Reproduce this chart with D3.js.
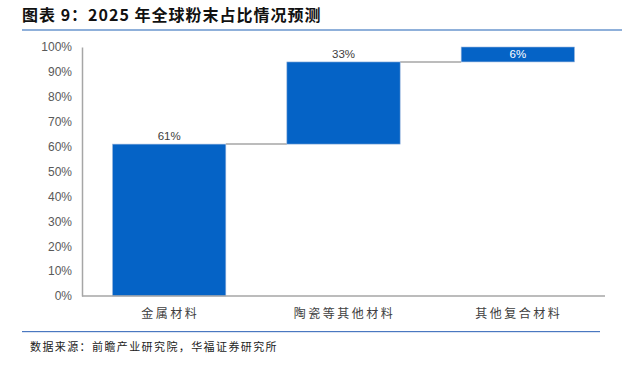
<!DOCTYPE html>
<html>
<head>
<meta charset="utf-8">
<script src="https://cdn.jsdelivr.net/npm/d3@7.9.0/dist/d3.min.js"></script>
<style>
  body { margin: 0; background: #fff; }
  svg { display: block; font-family: "Liberation Sans", Arial, sans-serif; }
</style>
</head>
<body>
<svg id="chart" width="622" height="365"></svg>
<script>
const categories = ['金属材料', '陶瓷等其他材料', '其他复合材料'];
const shares = [61, 33, 6];
const tickValues = [0, 10, 20, 30, 40, 50, 60, 70, 80, 90, 100];

const svg = d3.select('#chart');
const cjk = '"Noto Sans CJK SC", "Noto Sans", sans-serif';

// title + rules
svg.append('text')
  .attr('x', 22).attr('y', 21)
  .attr('font-family', cjk).attr('font-weight', 'bold')
  .attr('font-size', 16).attr('letter-spacing', 1).attr('fill', '#111')
  .text('图表 9：2025 年全球粉末占比情况预测');
svg.append('rect').attr('x', 22).attr('y', 29).attr('width', 600).attr('height', 2).attr('fill', '#8fb0da');
svg.append('rect').attr('x', 22).attr('y', 331).attr('width', 578).attr('height', 1.2).attr('fill', '#4a78c0');
svg.append('text')
  .attr('x', 30).attr('y', 351)
  .attr('font-family', cjk).attr('font-size', 11).attr('letter-spacing', 1.4).attr('fill', '#222')
  .text('数据来源：前瞻产业研究院，华福证券研究所');

const x = d3.scaleBand().domain(categories).range([82, 605]).paddingInner(0.35).paddingOuter(0.175);
const y = d3.scaleLinear().domain([0, 100]).range([296, 47]);

// waterfall bases
let run = 0;
const rows = categories.map((c, i) => {
  const r = { cat: c, v: shares[i], start: run, end: run + shares[i] };
  run += shares[i];
  return r;
});

// y axis
const yAxis = svg.append('g').attr('transform', 'translate(82,0)')
  .call(d3.axisLeft(y).tickValues(tickValues).tickSize(0).tickPadding(10).tickFormat(d => d + '%'));
yAxis.select('.domain').attr('stroke', '#a6a6a6').attr('stroke-width', 1.5);
yAxis.selectAll('text').attr('font-size', 12).attr('fill', '#595959').attr('font-family', '"Liberation Sans", Arial, sans-serif');

// connectors
rows.slice(0, -1).forEach((r, i) => {
  svg.append('line')
    .attr('x1', x(r.cat) + x.bandwidth()).attr('x2', x(rows[i + 1].cat))
    .attr('y1', y(r.end)).attr('y2', y(r.end))
    .attr('stroke', '#a6a6a6').attr('stroke-width', 1.5);
});

// bars
svg.selectAll('rect.bar').data(rows).join('rect')
  .attr('class', 'bar')
  .attr('x', d => x(d.cat))
  .attr('width', x.bandwidth())
  .attr('y', d => y(d.end))
  .attr('height', d => y(d.start) - y(d.end))
  .attr('fill', '#0563c6')
  .attr('stroke', '#9db7dd').attr('stroke-width', 0.6);

// x axis line
svg.append('line').attr('x1', 82).attr('x2', 605).attr('y1', 296).attr('y2', 296)
  .attr('stroke', '#a6a6a6').attr('stroke-width', 1.5);

// value labels
svg.selectAll('text.val').data(rows).join('text')
  .attr('class', 'val')
  .attr('x', d => x(d.cat) + x.bandwidth() / 2)
  .attr('y', d => d.v < 10 ? (y(d.end) + y(d.start)) / 2 + 4 : y(d.end) - 4)
  .attr('text-anchor', 'middle').attr('font-size', 11.5)
  .attr('fill', d => d.v < 10 ? '#fff' : '#404040')
  .text(d => d.v + '%');

// category labels
svg.selectAll('text.cat').data(categories).join('text')
  .attr('class', 'cat')
  .attr('x', d => x(d) + x.bandwidth() / 2 + 1)
  .attr('y', 318)
  .attr('text-anchor', 'middle')
  .attr('font-family', cjk).attr('font-size', 12).attr('letter-spacing', 2.5).attr('fill', '#404040')
  .text(d => d);
</script>
</body>
</html>
